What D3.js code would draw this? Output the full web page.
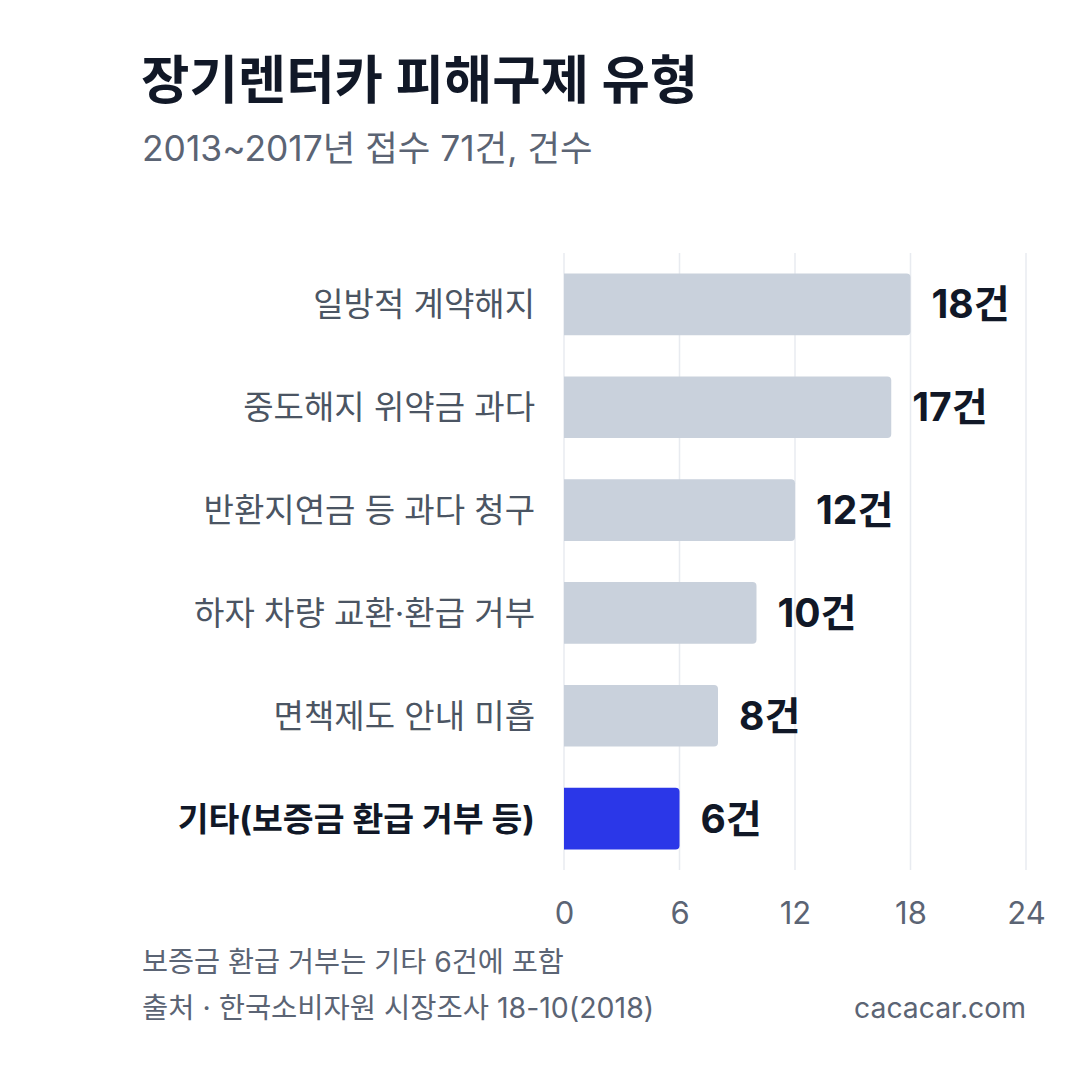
<!DOCTYPE html>
<html>
<head>
<meta charset="utf-8">
<script src="https://cdn.jsdelivr.net/npm/d3@7"></script>
<style>
  html, body { margin: 0; padding: 0; background: #fff; }
  svg { display: block; font-family: Inter, "Noto Sans CJK KR", sans-serif; }
</style>
</head>
<body>
<div id="chart"></div>
<script>
// data
const categories = [
    "일방적 계약해지",
    "중도해지 위약금 과다",
    "반환지연금 등 과다 청구",
    "하자 차량 교환·환급 거부",
    "면책제도 안내 미흡",
    "기타(보증금 환급 거부 등)"
];
const counts = [18, 17, 12, 10, 8, 6];
const highlight = "기타(보증금 환급 거부 등)";
const xTicks = [0, 6, 12, 18, 24];

const width = 1080, height = 1080;
const margin = { top: 253, right: 54, bottom: 210, left: 564 };
const font = "Inter, 'Noto Sans CJK KR', sans-serif";

const data = categories.map((c, i) => ({ name: c, value: counts[i] }));

const svg = d3.select("#chart")
    .append("svg")
    .attr("width", width)
    .attr("height", height);

const x = d3.scaleLinear()
    .domain([0, 24])
    .range([margin.left, width - margin.right]);

const y = d3.scaleBand()
    .domain(categories)
    .range([margin.top, height - margin.bottom])
    .paddingInner(0.4)
    .paddingOuter(0.2);

/* title + subtitle */
svg.append("text")
    .attr("x", 141).attr("y", 99)
    .attr("font-size", 52.6).attr("font-weight", 700)
    .attr("fill", "#111827")
    .text("장기렌터카 피해구제 유형");

svg.append("text")
    .attr("x", 142).attr("y", 161)
    .attr("font-size", 35.4)
    .attr("fill", "#5b6474")
    .text("2013~2017년 접수 71건, 건수");

/* gridlines */
svg.append("g")
    .selectAll("line")
    .data(xTicks)
    .join("line")
    .attr("x1", d => x(d)).attr("x2", d => x(d))
    .attr("y1", margin.top).attr("y2", height - margin.bottom)
    .attr("stroke", "#e8ebf0")
    .attr("stroke-width", 1.5);

/* bars - right corners rounded only */
const r = 4;
const barPath = d => {
    const x0 = x(0), x1 = x(d.value), y0 = y(d.name), h = y.bandwidth();
    return `M${x0},${y0}H${x1 - r}Q${x1},${y0} ${x1},${y0 + r}V${y0 + h - r}Q${x1},${y0 + h} ${x1 - r},${y0 + h}H${x0}Z`;
};

svg.append("g")
    .selectAll("path")
    .data(data)
    .join("path")
    .attr("d", barPath)
    .attr("fill", d => d.name === highlight ? "#2b37e8" : "#c9d1dc");

/* value labels */
svg.append("g")
    .selectAll("text")
    .data(data)
    .join("text")
    .attr("x", d => x(d.value) + 21)
    .attr("y", d => y(d.name) + y.bandwidth() / 2)
    .attr("dy", "0.36em")
    .attr("font-size", 39).attr("font-weight", 700)
    .attr("fill", "#111827")
    .text(d => d.value + "건");

/* category labels */
svg.append("g")
    .selectAll("text")
    .data(data)
    .join("text")
    .attr("x", margin.left - 29)
    .attr("y", d => y(d.name) + y.bandwidth() / 2)
    .attr("dy", "0.36em")
    .attr("text-anchor", "end")
    .attr("font-size", d => d.name === highlight ? 33.5 : 33)
    .attr("font-weight", d => d.name === highlight ? 700 : 400)
    .attr("fill", d => d.name === highlight ? "#111827" : "#4b5563")
    .text(d => d.name);

/* x axis */
const xAxis = svg.append("g")
    .attr("transform", `translate(0,${height - margin.bottom})`)
    .call(d3.axisBottom(x).tickValues(xTicks).tickSize(0).tickPadding(0));
xAxis.select(".domain").remove();
xAxis.selectAll("text")
    .attr("y", 43)
    .attr("dy", "0.36em")
    .attr("font-family", font)
    .attr("font-size", 31)
    .attr("fill", "#5b6474");

/* footer */
svg.append("text")
    .attr("x", 142).attr("y", 972)
    .attr("font-size", 28.3)
    .attr("fill", "#5b6474")
    .text("보증금 환급 거부는 기타 6건에 포함");

svg.append("text")
    .attr("x", 142).attr("y", 1018)
    .attr("font-size", 28.5)
    .attr("fill", "#5b6474")
    .text("출처 · 한국소비자원 시장조사 18-10(2018)");

svg.append("text")
    .attr("x", 1026).attr("y", 1018)
    .attr("text-anchor", "end")
    .attr("font-size", 28.3)
    .attr("fill", "#5b6474")
    .text("cacacar.com");
</script>
</body>
</html>
